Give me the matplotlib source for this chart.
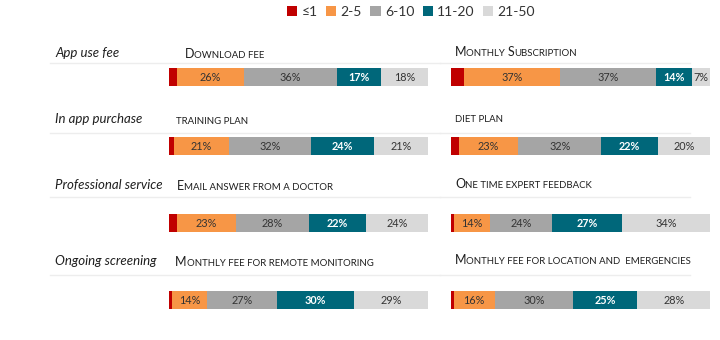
import matplotlib
matplotlib.use("Agg")
import matplotlib.pyplot as plt
from matplotlib.patches import Patch
from matplotlib.lines import Line2D

# ---- data ----
bins = ["≤1", "2-5", "6-10", "11-20", "21-50"]
colors = ["#C00000", "#F79646", "#A5A5A5", "#00677A", "#D9D9D9"]
groups = ["App use fee", "In app purchase", "Professional service", "Ongoing screening"]
left_titles = ["Download fee", "training plan", "Email answer from a doctor",
               "Monthly fee for remote monitoring"]
right_titles = ["Monthly Subscription", "diet plan", "One time expert feedback",
                "Monthly fee for location and  emergencies"]
left_values = [
    [3, 26, 36, 17, 18],
    [2, 21, 32, 24, 21],
    [3, 23, 28, 22, 24],
    [1, 14, 27, 30, 29],
]
right_values = [
    [5, 37, 37, 14, 7],
    [3, 23, 32, 22, 20],
    [1, 14, 24, 27, 34],
    [1, 16, 30, 25, 28],
]

FONT = "Lato"
W, H = 720, 340
fig = plt.figure(figsize=(W / 100, H / 100), dpi=100)
fig.patch.set_facecolor("white")


def fx(x):
    return x / W


def fy(y):
    return 1 - y / H


renderer = fig.canvas.get_renderer()


def smallcaps(x, y, text, big=9.0, small=6.9, color="#1F1F1F"):
    # draw text in small caps: original capitals larger, others as small capitals
    runs = []
    for ch in text:
        size = big if ch.isupper() else small
        if runs and runs[-1][1] == size:
            runs[-1][0] += ch.upper()
        else:
            runs.append([ch.upper(), size])
    cx = x
    for s, size in runs:
        t = fig.text(fx(cx), fy(y), s, fontsize=size, family=FONT, color=color,
                     ha="left", va="baseline")
        bb = t.get_window_extent(renderer=renderer)
        cx += bb.width


row_label_y = [57, 123, 189, 265]
left_title_x = [185, 176, 177, 175]
line_y = [63, 133, 197, 275]
bar_top = [68, 137, 214, 291]
bar_h = 18
panels = [(169, 428), (451, 710)]

for i in range(4):
    fig.text(fx(55), fy(row_label_y[i]), groups[i], fontsize=9.5, style="italic",
             family=FONT, color="#1F1F1F", ha="left", va="baseline")
    smallcaps(left_title_x[i], row_label_y[i] + 1, left_titles[i])
    smallcaps(455, row_label_y[i] - 1, right_titles[i])
    fig.add_artist(Line2D([fx(50), fx(440)], [fy(line_y[i])] * 2, color="#EDEDED", lw=1))
    fig.add_artist(Line2D([fx(440), fx(690)], [fy(line_y[i])] * 2, color="#EDEDED", lw=1))
    for (x0, x1), vals in zip(panels, [left_values[i], right_values[i]]):
        ax = fig.add_axes([fx(x0), fy(bar_top[i] + bar_h), (x1 - x0) / W, bar_h / H])
        ax.set_xlim(0, sum(vals))
        ax.set_ylim(-0.5, 0.5)
        ax.axis("off")
        left = 0
        for j, v in enumerate(vals):
            ax.barh(0, v, left=left, height=1, color=colors[j], linewidth=0)
            if j > 0:
                tc = "white" if j == 3 else "#333333"
                ax.text(left + v / 2, -0.03, f"{v}%", ha="center", va="center",
                        fontsize=7.8, family=FONT, color=tc,
                        fontweight="bold" if j == 3 else "normal")
            left += v

handles = [Patch(facecolor=c, edgecolor="none") for c in colors]
fig.legend(handles, bins, loc="center", bbox_to_anchor=(fx(411), fy(12)), ncol=5,
           frameon=False, prop={"family": FONT, "size": 10}, handlelength=0.75,
           handleheight=0.75, handletextpad=0.3, columnspacing=0.6,
           labelcolor="#333333")

fig.savefig("out.png", dpi=100)
